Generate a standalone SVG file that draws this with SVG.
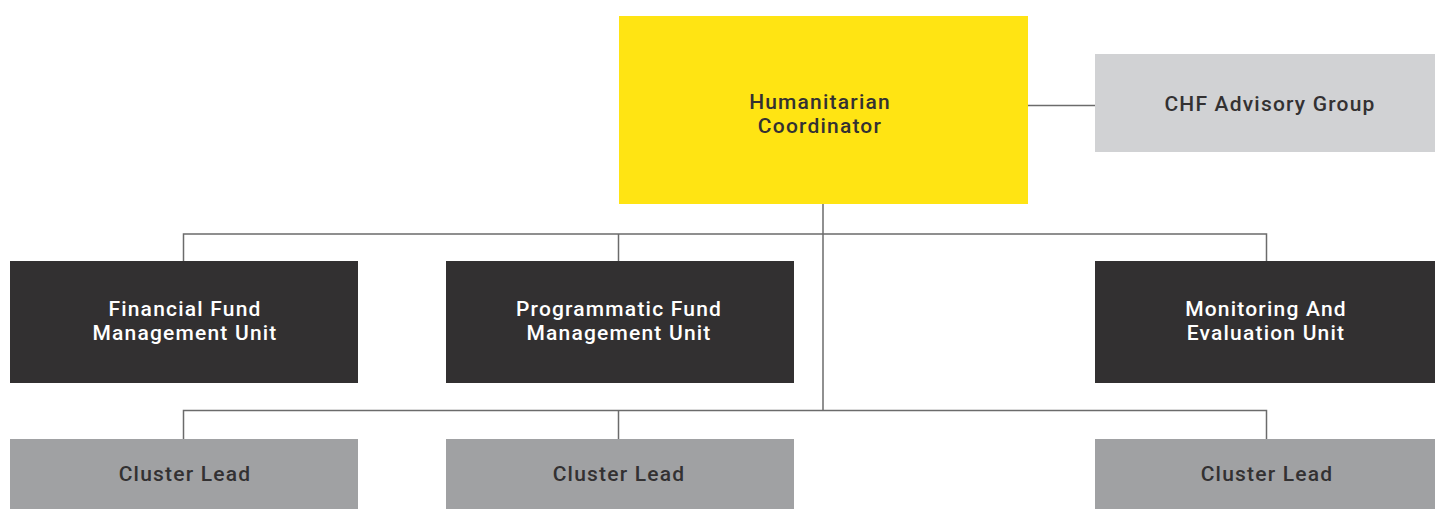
<svg xmlns="http://www.w3.org/2000/svg" width="1435" height="509" viewBox="0 0 1435 509">
<style>
.t{font-family:Roboto,"DejaVu Sans",sans-serif;font-size:21px;font-weight:500;text-anchor:middle;letter-spacing:1.2px}
.dk{fill:#333132}
.lt{fill:#ffffff}
.ln{stroke:#6b6b6b;stroke-width:1.5;fill:none}
</style>
<rect width="1435" height="509" fill="#ffffff"/>
<g id="connectors">
<path class="ln" d="M1028 105.5H1095"/>
<path class="ln" d="M823 204V410"/>
<path class="ln" d="M183.5 261V234H1266.5V261"/>
<path class="ln" d="M618.5 234V261"/>
<path class="ln" d="M183.5 439V410.5H1266.5V439"/>
<path class="ln" d="M618.5 410.5V439"/>
</g>
<g id="hc">
<rect x="619" y="16" width="409" height="188" fill="#ffe413"/>
<text class="t dk" x="820" y="109">Humanitarian</text>
<text class="t dk" x="820" y="133">Coordinator</text>
</g>
<g id="chf">
<rect x="1095" y="54" width="340" height="98" fill="#d1d2d4"/>
<text class="t dk" x="1270" y="111">CHF Advisory Group</text>
</g>
<g id="ffmu">
<rect x="10" y="261" width="348" height="122" fill="#323031"/>
<text class="t lt" x="185" y="316">Financial Fund</text>
<text class="t lt" x="185" y="340">Management Unit</text>
</g>
<g id="pfmu">
<rect x="446" y="261" width="348" height="122" fill="#323031"/>
<text class="t lt" x="619" y="316">Programmatic Fund</text>
<text class="t lt" x="619" y="340">Management Unit</text>
</g>
<g id="meu">
<rect x="1095" y="261" width="340" height="122" fill="#323031"/>
<text class="t lt" x="1266" y="316">Monitoring And</text>
<text class="t lt" x="1266" y="340">Evaluation Unit</text>
</g>
<g id="cl1">
<rect x="10" y="439" width="348" height="70" fill="#a0a1a3"/>
<text class="t dk" x="185" y="481">Cluster Lead</text>
</g>
<g id="cl2">
<rect x="446" y="439" width="348" height="70" fill="#a0a1a3"/>
<text class="t dk" x="619" y="481">Cluster Lead</text>
</g>
<g id="cl3">
<rect x="1095" y="439" width="340" height="70" fill="#a0a1a3"/>
<text class="t dk" x="1267" y="481">Cluster Lead</text>
</g>
</svg>
